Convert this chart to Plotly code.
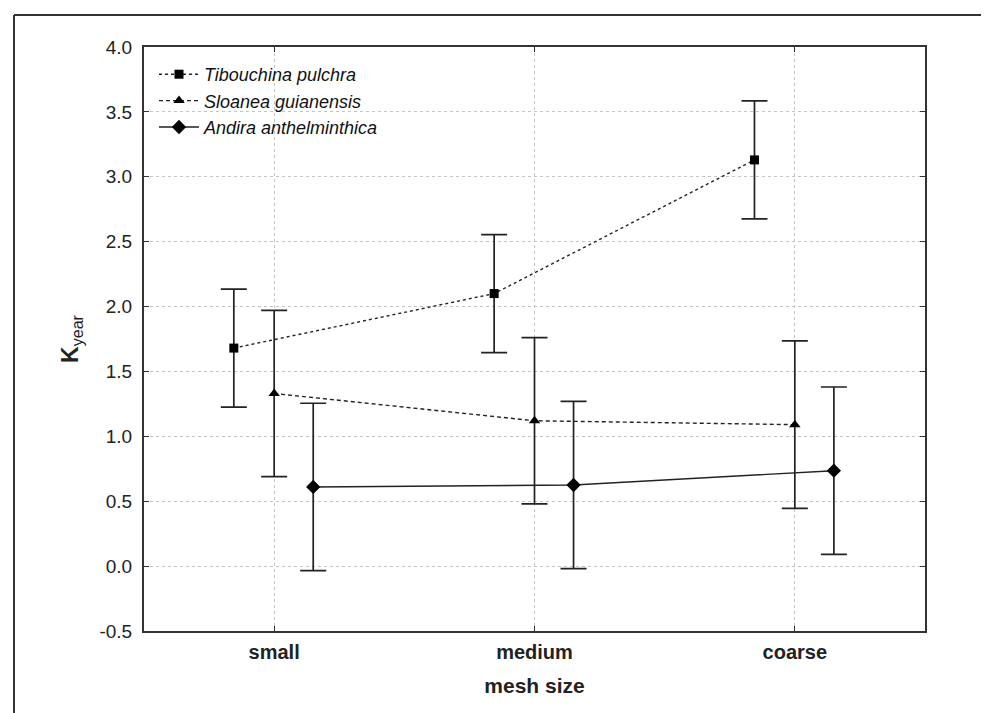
import plotly.graph_objects as go

categories = ["small", "medium", "coarse"]
cat_pos = [0, 1, 2]
series_names = ["Tibouchina pulchra", "Sloanea guianensis", "Andira anthelminthica"]
offsets = [-0.155, 0.0, 0.15]

tib_mean = [1.68, 2.10, 3.13]
tib_err = [0.455, 0.455, 0.455]
slo_mean = [1.33, 1.12, 1.09]
slo_err = [0.64, 0.64, 0.645]
and_mean = [0.61, 0.625, 0.735]
and_err = [0.645, 0.645, 0.645]

y_ticks = [-0.5, 0.0, 0.5, 1.0, 1.5, 2.0, 2.5, 3.0, 3.5, 4.0]
y_ticktext = ["-0.5", "0.0", "0.5", "1.0", "1.5", "2.0", "2.5", "3.0", "3.5", "4.0"]

means = [tib_mean, slo_mean, and_mean]
errs = [tib_err, slo_err, and_err]
dashes = ["dot", "4px,3px", "solid"]
symbols = ["square", "triangle-up", "diamond"]
msizes = [9, 10, 11]

FONT = "Liberation Sans, Arial, sans-serif"

fig = go.Figure()
for name, m, e, off, d, s, ms in zip(series_names, means, errs, offsets, dashes, symbols, msizes):
    fig.add_trace(go.Scatter(
        x=[p + off for p in cat_pos], y=m, name="<i>" + name + "</i>",
        mode="lines+markers",
        line=dict(color="#222", width=1.4, dash=d),
        marker=dict(symbol=s, size=ms, color="black"),
        error_y=dict(type="data", array=e, visible=True, color="#222", thickness=1.7, width=13),
    ))

L, R, T, B = 136, 72, 39, 90
W, H = 989, 713
pw, ph = W - L - R, H - T - B
fx = lambda px: (px - L) / pw
fy = lambda py: (H - B - py) / ph

fig.update_layout(
    width=W, height=H,
    margin=dict(l=L, r=R, t=T, b=B),
    paper_bgcolor="white", plot_bgcolor="white",
    font=dict(family=FONT, size=19, color="#222"),
    showlegend=True,
    legend=dict(x=fx(146), y=fy(48), xanchor="left", yanchor="top",
                bgcolor="rgba(0,0,0,0)", font=dict(size=18, family=FONT, color="#111"),
                itemwidth=40, tracegroupgap=0),
    xaxis=dict(range=[-0.5, 2.5], tickvals=cat_pos, ticktext=categories,
               tickfont=dict(size=20, family=FONT, weight="bold", color="#222"),
               showline=True, linecolor="#333", linewidth=2, mirror="ticks",
               ticks="inside", ticklen=5, tickcolor="#333",
               showgrid=True, gridcolor="#c4c4c4", griddash="dot", gridwidth=1,
               zeroline=False, ticklabelstandoff=2,
               title=dict(text="<b>mesh size</b>", font=dict(size=21, family=FONT), standoff=16)),
    yaxis=dict(range=[-0.5, 4.0], tickvals=y_ticks, ticktext=y_ticktext,
               tickfont=dict(size=19, family=FONT, color="#222"),
               showline=True, linecolor="#333", linewidth=2, mirror="ticks",
               ticks="inside", ticklen=5, tickcolor="#333",
               showgrid=True, gridcolor="#c4c4c4", griddash="dot", gridwidth=1,
               zeroline=False, ticklabelstandoff=6,
               title=dict(text="<b>K</b><sub>year</sub>", font=dict(size=23, family=FONT), standoff=14)),
    shapes=[
        dict(type="line", xref="paper", yref="paper", x0=fx(6), x1=fx(6), y0=fy(7), y1=fy(720),
             line=dict(color="#333", width=2)),
        dict(type="line", xref="paper", yref="paper", x0=fx(6), x1=fx(995), y0=fy(7), y1=fy(7),
             line=dict(color="#333", width=2)),
    ],
)

fig.write_html("out.html")
